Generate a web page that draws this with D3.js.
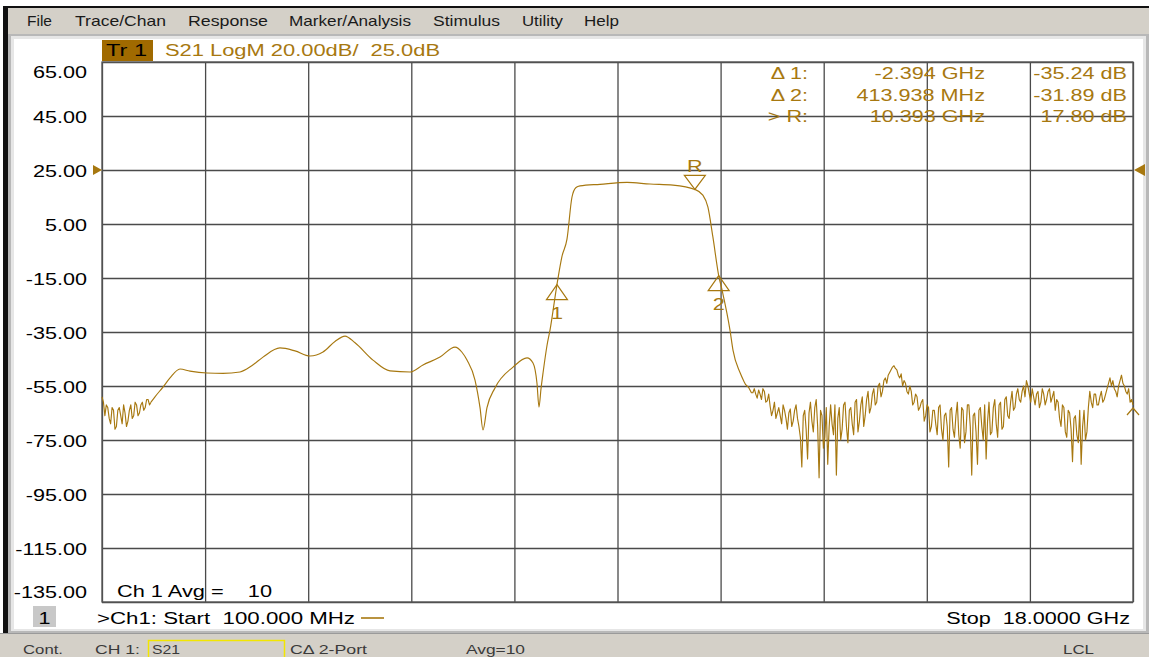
<!DOCTYPE html>
<html><head><meta charset="utf-8">
<script src="https://cdn.jsdelivr.net/npm/d3@7"></script>
<style>
body{margin:0;background:#fff}
svg{display:block}
text{font-family:"Liberation Sans",Arial,sans-serif;white-space:pre}
</style>
</head><body>
<svg id="c" width="1149" height="657"></svg>
<script>
// ---------------- data ----------------
const startGHz = 0.1, stopGHz = 18.0;
const yTicks = [65, 45, 25, 5, -15, -35, -55, -75, -95, -115, -135];
const xDivisions = 10;
const refLevelDb = 25;

const noiseStepGHz = 0.025;
const lowNoiseStartGHz = 0.1;
const lowNoiseDb = [-59,-61,-66,-62,-63,-67,-69,-63,-64,-71,-70,-64,-63,-66,-69,-62,-65,-70,
  -68,-64,-62,-67,-66,-61,-62,-66,-65,-62,-61,-64,-63,-60,-60,-62,-61];

const smoothTrace = [
  [0.95,-61],[1.02,-59],[1.159,-55.4],[1.281,-52],[1.454,-48.7],[1.628,-49.5],[1.923,-50.2],
  [2.2,-50.3],[2.496,-49.8],[2.7,-47.5],[2.895,-44.3],[3.19,-40.9],[3.451,-42],[3.711,-43.9],
  [3.937,-42.4],[4.145,-38.5],[4.319,-36.5],[4.493,-39],[4.805,-45.4],[5.1,-49.4],[5.448,-49.8],
  [5.673,-47.2],[5.968,-44.3],[6.229,-40.6],[6.35,-42.5],[6.437,-45.4],[6.576,-52.8],[6.663,-63],
  [6.715,-71.3],[6.784,-63],[6.923,-55.7],[7.236,-48],[7.479,-44.6],[7.583,-46.5],[7.652,-54],
  [7.687,-62.8],[7.722,-56],[7.757,-50.2],[7.826,-40],[7.878,-34.3],[7.999,-17.44],[8.086,-7],
  [8.173,-0.6],[8.26,15],[8.33,18.5],[8.399,19.1],[8.746,19.7],[9.215,20.4],[9.614,19.8],
  [10.013,19.4],[10.393,17.8],[10.532,15.7],[10.619,11.3],[10.706,0.2],[10.807,-14.09],
  [10.865,-19.4],[11.003,-34.3],[11.055,-41.7],[11.177,-50],[11.25,-53.5]
];

const highNoiseStartGHz = 11.25;
const highNoiseDb = [
  -53.5,-54.5,-55,-55.5,-56.5,-57.5,-57.5,-56,-58,-59.5,-56.5,-58,-60,-56,-57,-61,-60.5,-58,-62.5,-66,
  -64,-61,-67,-65,-63,-66,-69,-62,-64,-67,-71,-65,-63.5,-70,-68,-64,-62,-67,-70,-74,
  -85,-66,-64,-71,-82,-65,-61,-68,-72,-63,-60,-70,-89,-64,-66,-78,-74,-63,-84,-70,
  -62,-69,-73,-62,-88,-67,-63,-75,-71,-62,-61,-70,-76,-64,-63,-69,-73,-61,-60,-72,
  -68,-62,-59,-70,-66,-60,-57,-65,-63,-58,-56,-62,-61,-55,-54,-59,-57,-53,-52,-54,
  -51,-50,-49,-48,-47.5,-48.5,-49,-51,-52,-50.5,-55,-53,-54,-57,-58,-55,-57,-62,-61,-58,
  -59,-64,-63,-61,-60,-68,-66,-62,-63,-72,-70,-64,-64,-69,-73,-63,-62,-71,-75,-66,
  -65,-70,-85,-64,-63,-71,-74,-66,-61,-73,-78,-63,-64,-76,-72,-62,-62,-70,-88,-66,
  -65,-72,-84,-64,-63,-70,-75,-62,-82,-68,-61,-73,-72,-63,-60,-69,-74,-62,-61,-71,
  -70,-60,-59,-66,-67,-61,-57,-64,-63,-58,-56,-60,-61,-57,-55,-59,-53,-55,-58,-61,
  -56,-59,-62,-58,-57,-63,-61,-56,-58,-62,-60,-57,-56,-61,-59,-57,-64,-60,-61,-67,
  -70,-62,-63,-72,-74,-64,-65,-71,-83,-67,-66,-73,-76,-64,-84,-70,-64,-75,-72,-63,
  -57,-61,-63,-58,-58,-62,-62,-59,-57,-61,-60,-58,-56,-54,-52,-55,-53,-56,-57,-59,
  -55,-53,-51,-54,-55,-57,-58,-56,-61,-60,-62
];

const markers = [
  {id:"1", f:7.999, db:-17.44, dir:"up"},
  {id:"2", f:10.807, db:-14.09, dir:"up"},
  {id:"R", f:10.393, db:17.80, dir:"down"}
];
const markerLabels = ["\u0394 1:", "\u0394 2:", "> R:"];
const markerStimulus = ["-2.394 GHz", "413.938 MHz", "10.393 GHz"];
const markerResponse = ["-35.24 dB", "-31.89 dB", "17.80 dB"];

const menuItems = ["File","Trace/Chan","Response","Marker/Analysis","Stimulus","Utility","Help"];
const traceTitle = "S21 LogM 20.00dB/  25.0dB";
const statusItems = ["Cont.","CH 1:","S21","C\u0394 2-Port","Avg=10","LCL"];

// ---------------- layout ----------------
const GOLD = "#a77810";
const svg = d3.select("#c");
const L = 102, R = 1133, T = 62, B = 602;
const x = d3.scaleLinear().domain([startGHz, stopGHz]).range([L, R]);
const y = d3.scaleLinear().domain([-135, 65]).range([B, T]);

function txt(str, xx, yy, size, fill, opt) {
  opt = opt || {};
  const t = svg.append("text").attr("x", xx).attr("y", yy)
    .attr("font-size", size).attr("fill", fill).text(str);
  let w = opt.w;
  if (!w) w = t.node().getComputedTextLength() * (opt.stretch || 1.35);
  t.attr("textLength", w).attr("lengthAdjust", "spacingAndGlyphs");
  if (opt.right !== undefined) t.attr("x", opt.right - w);
  if (opt.center !== undefined) t.attr("x", opt.center - w / 2);
  return t;
}

// window chrome
svg.append("rect").attr("x",0).attr("y",0).attr("width",1149).attr("height",657).attr("fill","#fff");
svg.append("rect").attr("x",3).attr("y",6).attr("width",1146).attr("height",632).attr("fill","#111");
svg.append("rect").attr("x",8).attr("y",8).attr("width",1141).attr("height",26).attr("fill","#d4d0c8");
svg.append("rect").attr("x",8).attr("y",34).attr("width",1141).attr("height",600).attr("fill","#b8b8b8");
svg.append("rect").attr("x",11).attr("y",36).attr("width",1135).attr("height",595).attr("fill","#e6e6e6");
svg.append("rect").attr("x",14).attr("y",39).attr("width",1129).attr("height",590).attr("fill","#fff");
svg.append("rect").attr("x",0).attr("y",634).attr("width",1149).attr("height",23).attr("fill","#d4d0c8");
svg.append("line").attr("x1",0).attr("x2",1149).attr("y1",633.5).attr("y2",633.5).attr("stroke","#9a9a9a");

// menu
const menuX = [27, 75, 188, 289, 433, 522, 584];
const menuW = [25, 91, 80, 122, 67, 41, 35];
menuItems.forEach((m, i) => txt(m, menuX[i], 25.5, 15, "#1a1a1a", {w: menuW[i]}));

// header
svg.append("rect").attr("x",102).attr("y",40).attr("width",51).attr("height",21).attr("fill","#a06a00");
txt("Tr 1", 106, 56, 16, "#000", {w: 41});
txt(traceTitle, 165, 56, 16, GOLD, {w: 275});

// grid
const xTickVals = d3.range(xDivisions + 1).map(k => startGHz + k * (stopGHz - startGHz) / xDivisions);
const gx = svg.append("g").attr("transform", `translate(0,${B})`)
  .call(d3.axisBottom(x).tickValues(xTickVals).tickSize(-(B - T)).tickFormat(""));
const gy = svg.append("g").attr("transform", `translate(${L},0)`)
  .call(d3.axisLeft(y).tickValues(yTicks).tickSize(-(R - L)).tickFormat(""));
[gx, gy].forEach(g => {
  g.select(".domain").remove();
  g.selectAll(".tick line").attr("stroke", "#4a4a4a").attr("stroke-width", 1.3);
});
svg.append("rect").attr("x",L).attr("y",T).attr("width",R-L).attr("height",B-T)
  .attr("fill","none").attr("stroke","#555").attr("stroke-width",1.3);

// y labels
yTicks.forEach(v => {
  let cy = y(v) + 1;
  if (v === 65) cy = 72.5;
  if (v === -135) cy = 592;
  txt(v.toFixed(2), 0, cy + 5.8, 16, "#000", {right: 87});
});

// reference level arrows
svg.append("path").attr("d", `M93,${y(refLevelDb)-5}L102,${y(refLevelDb)}L93,${y(refLevelDb)+5}Z`).attr("fill", GOLD);
svg.append("path").attr("d", `M1145,${y(refLevelDb)-6}L1134,${y(refLevelDb)}L1145,${y(refLevelDb)+6}Z`).attr("fill", GOLD);

// trace: noisy stretches drawn linearly, smooth stretch with a monotone curve
const lowNoise = lowNoiseDb.map((d, i) => [lowNoiseStartGHz + i * noiseStepGHz, d]);
const highNoise = highNoiseDb.map((d, i) => [highNoiseStartGHz + i * noiseStepGHz, d]);
const linLine = d3.line().x(d => x(d[0])).y(d => y(d[1]));
const smLine = d3.line().x(d => x(d[0])).y(d => y(d[1])).curve(d3.curveMonotoneX);
[[lowNoise, linLine], [smoothTrace, smLine], [highNoise, linLine]].forEach(([data, gen]) => {
  svg.append("path").datum(data).attr("d", gen).attr("fill", "none")
    .attr("stroke", GOLD).attr("stroke-width", 1.15).attr("stroke-linejoin", "round");
});

// markers
markers.forEach(m => {
  const px = x(m.f), py = y(m.db);
  if (m.dir === "up") {
    svg.append("path").attr("d", `M${px},${py}L${px-10.5},${py+15}L${px+10.5},${py+15}Z`)
      .attr("fill","none").attr("stroke",GOLD).attr("stroke-width",1.2);
    txt(m.id, 0, py + 34, 16, GOLD, {center: px});
  } else {
    svg.append("path").attr("d", `M${px},${py}L${px-10.5},${py-14}L${px+10.5},${py-14}Z`)
      .attr("fill","none").attr("stroke",GOLD).attr("stroke-width",1.2);
    txt(m.id, 0, py - 17, 16, GOLD, {center: px});
  }
});
// off-edge marker caret at stop
svg.append("path").attr("d", `M1127,415L1133,408L1139,415`).attr("fill","none").attr("stroke",GOLD).attr("stroke-width",1.2);

// marker table
markerLabels.forEach((lab, i) => {
  const by = 79 + i * 21.5;
  txt(lab, 0, by, 16, GOLD, {right: 808});
  txt(markerStimulus[i], 0, by, 16, GOLD, {right: 985});
  txt(markerResponse[i], 0, by, 16, GOLD, {right: 1127});
});

// bottom annotations
txt("Ch 1 Avg =    10", 117, 597, 16, "#000", {w: 155});
svg.append("rect").attr("x",33).attr("y",606).attr("width",23).attr("height",21).attr("fill","#c8c8c8");
txt("1", 0, 623.5, 16, "#000", {center: 44.5});
txt(">Ch1: Start  100.000 MHz", 97, 624, 16, "#000", {w: 258});
svg.append("line").attr("x1",361).attr("x2",384).attr("y1",618).attr("y2",618).attr("stroke",GOLD).attr("stroke-width",1.6);
txt("Stop  18.0000 GHz", 0, 624, 16, "#000", {right: 1130});

// status bar
svg.append("rect").attr("x",148.5).attr("y",640.5).attr("width",136).attr("height",18).attr("fill","none").attr("stroke","#f2e600").attr("stroke-width",1.5);
const statusX = [23, 95, 152, 290, 466, 1063];
const statusW = [40, 45, 28, 77, 59, 31];
statusItems.forEach((s, i) => txt(s, statusX[i], 654, 13, "#3a3a3a", {w: statusW[i]}));
</script>
</body></html>
